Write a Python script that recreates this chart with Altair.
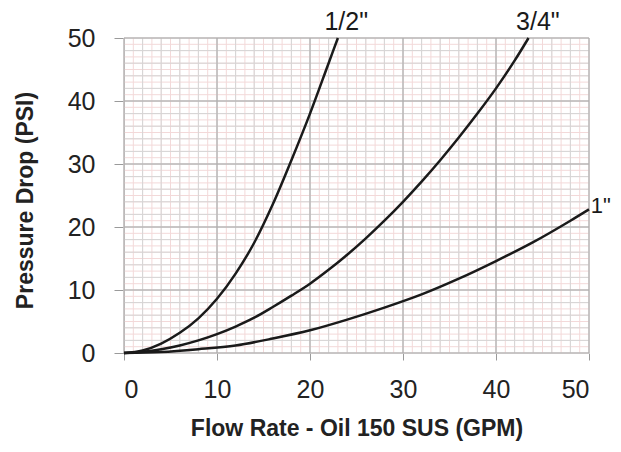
import altair as alt
import pandas as pd

# Curves (flow GPM vs pressure drop PSI)
half_x = [0, 2, 4, 6, 8, 10, 12, 14, 16, 18, 20, 22, 23]
half_y = [0, 0.4, 1.5, 3.2, 5.5, 8.6, 12.6, 17.5, 23.6, 30.6, 38.0, 46.0, 50]

tq_x = [0, 2, 4, 6, 8, 10, 12, 14, 16, 18, 20, 22, 24, 26, 28, 30, 32, 34, 36, 38, 40, 42, 43.5]
tq_y = [0, 0.2, 0.6, 1.2, 2.0, 3.0, 4.2, 5.6, 7.3, 9.1, 11.0, 13.2, 15.6, 18.2, 21.0, 24.0, 27.2, 30.6, 34.2, 38.0, 42.0, 46.4, 50]

one_x = [0, 4, 8, 12, 16, 20, 24, 28, 32, 36, 40, 44, 48, 50]
one_y = [0, 0.15, 0.6, 1.2, 2.3, 3.6, 5.3, 7.2, 9.3, 11.8, 14.6, 17.6, 21.0, 22.8]

label_text = ['1/2"', '3/4"', '1"']
label_x = [23.9, 44.5, 50.2]
label_y = [52.5, 52.5, 23.4]
label_align = ["center", "center", "left"]

tick_values = [0, 10, 20, 30, 40, 50]
minor_grid = list(range(0, 51, 1))
mid_grid = list(range(0, 51, 2))

rows = []
for name, xs_, ys_ in [('1/2"', half_x, half_y), ('3/4"', tq_x, tq_y), ('1"', one_x, one_y)]:
    for xv, yv in zip(xs_, ys_):
        rows.append({"size": name, "flow": xv, "psi": yv})
curves = pd.DataFrame(rows)

labels = pd.DataFrame({"t": label_text, "x": label_x, "y": label_y, "al": label_align})

xs = alt.Scale(domain=[0, 50], nice=False)
ys = alt.Scale(domain=[0, 50], nice=False)
FONT = "Liberation Sans"

xaxis = alt.Axis(values=tick_values, grid=False, domain=False, tickSize=7, tickColor="#9a9a9a",
                 labelFontSize=25, labelColor="#222", labelFont=FONT, labelPadding=29,
                 labelBaseline="middle", title="Flow Rate - Oil 150 SUS (GPM)",
                 titleFontSize=23, titleFont=FONT, titleFontWeight="bold", titleColor="#222",
                 titleBaseline="middle", titleY=75)
yaxis = alt.Axis(values=tick_values, grid=False, domain=True, domainColor="#9a9a9a", tickSize=10,
                 tickColor="#9a9a9a", labelFontSize=25, labelColor="#222", labelFont=FONT,
                 labelPadding=19, labelBaseline="middle", title="Pressure Drop (PSI)",
                 titleFontSize=23, titleFont=FONT, titleFontWeight="bold", titleColor="#222",
                 titleAngle=-90, titleBaseline="middle", titleAlign="center", titleX=-99, titleY=162)

def vgrid(vals, color, w):
    return alt.Chart(pd.DataFrame({"v": vals})).mark_rule(color=color, strokeWidth=w).encode(
        x=alt.X("v:Q", scale=xs, axis=xaxis))

def hgrid(vals, color, w):
    return alt.Chart(pd.DataFrame({"v": vals})).mark_rule(color=color, strokeWidth=w).encode(
        y=alt.Y("v:Q", scale=ys, axis=yaxis))

grid = (vgrid(minor_grid, "#f3d9d9", 1) + hgrid(minor_grid, "#f3d9d9", 1)
        + vgrid(mid_grid, "#d6d6d6", 1) + hgrid(mid_grid, "#d6d6d6", 1)
        + vgrid(tick_values, "#aaaaaa", 1) + hgrid(tick_values, "#aaaaaa", 1))

lines = alt.Chart(curves).mark_line(color="#1a1a1a", strokeWidth=2.5, interpolate="monotone", clip=False).encode(
    x=alt.X("flow:Q", scale=xs, axis=xaxis),
    y=alt.Y("psi:Q", scale=ys, axis=yaxis),
    detail="size:N",
)

texts_c = alt.Chart(labels[labels.al == "center"]).mark_text(
    fontSize=25, font=FONT, color="#1a1a1a", align="center", baseline="middle").encode(
    x=alt.X("x:Q", scale=xs, axis=xaxis), y=alt.Y("y:Q", scale=ys, axis=yaxis), text="t:N")
texts_l = alt.Chart(labels[labels.al == "left"]).mark_text(
    fontSize=22, font=FONT, color="#1a1a1a", align="left", baseline="middle").encode(
    x=alt.X("x:Q", scale=xs, axis=xaxis), y=alt.Y("y:Q", scale=ys, axis=yaxis), text="t:N")

chart = alt.layer(grid, lines, texts_c, texts_l).properties(
    width=465, height=315,
    autosize=alt.AutoSizeParams(type="none"),
    padding={"left": 116, "top": 30, "right": 24, "bottom": 98},
    background="white",
).configure_view(strokeWidth=0)

chart.save("out.html", embed_options={"renderer": "svg", "actions": False})
